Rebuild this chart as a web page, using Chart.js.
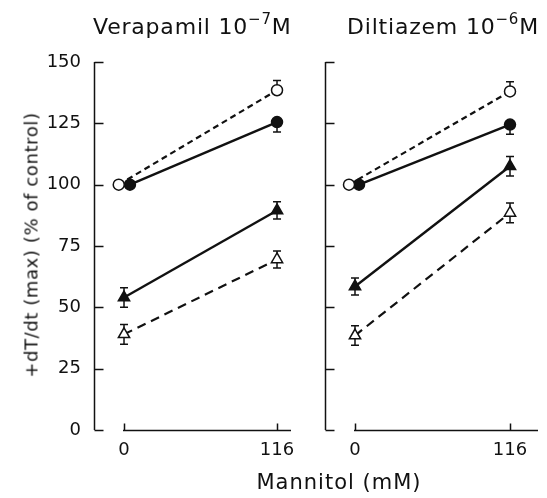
<!DOCTYPE html>
<html>
<head>
<meta charset="utf-8">
<script src="https://cdn.jsdelivr.net/npm/chart.js@4"></script>
<style>
  body { margin: 0; background: #fff; }
  #wrap { position: relative; width: 547px; height: 498px; font-family: "DejaVu Sans", sans-serif; color: #111; }
  canvas { position: absolute; top: 0; }
  .lbl { position: absolute; white-space: nowrap; }
  .title { font-size: 22px; top: 12px; letter-spacing: 0.8px; }
  .title sup { font-size: 15px; position: relative; top: -2px; }
</style>
</head>
<body>
<div id="wrap">
  <canvas id="left" width="300" height="498" style="left:0"></canvas>
  <canvas id="right" width="247" height="498" style="left:300px"></canvas>
  <div class="lbl title" style="left:93px">Verapamil 10<sup>−7</sup>M</div>
  <div class="lbl title" style="left:347px">Diltiazem 10<sup>−6</sup>M</div>
  <div class="lbl" style="font-size:18px;letter-spacing:0.6px;left:31px;top:245px;transform:translate(-50%,-50%) rotate(-90deg);">+dT/dt (max) (% of control)</div>
  <div class="lbl" style="font-size:21px;letter-spacing:1px;left:339px;top:482px;transform:translate(-50%,-50%);">Mannitol (mM)</div>
</div>
<script>
// mannitol concentrations (mM)
const mannitol = [0, 116];
const yTicks = [0, 25, 50, 75, 100, 125, 150];

// Verapamil 1e-7 M
const veraOpenCircle = [100, 138.5];
const veraOpenCircleErr = [0, 4];
const veraFilledCircle = [100, 125.5];
const veraFilledCircleErr = [0, 4];
const veraFilledTri = [54, 89.5];
const veraFilledTriErr = [4, 3.5];
const veraOpenTri = [39, 69.5];
const veraOpenTriErr = [4, 3.5];

// Diltiazem 1e-6 M
const diltOpenCircle = [100, 138];
const diltOpenCircleErr = [0, 4];
const diltFilledCircle = [100, 124.5];
const diltFilledCircleErr = [0, 4];
const diltFilledTri = [58.5, 107.5];
const diltFilledTriErr = [3.5, 4];
const diltOpenTri = [38.5, 88.5];
const diltOpenTriErr = [4, 4];

const ink = "#111";
const FONT = "DejaVu Sans";

// small sideways shift at 0 mM so the two circles don't sit on top of each other
function pts(values, shift) {
  return values.map((v, i) => ({ x: mannitol[i] + (i === 0 ? shift : 0), y: v }));
}

function series(values, err, opts) {
  return {
    data: pts(values, opts.shift || 0),
    err: err,
    errDir: opts.errDir || "both",
    borderColor: ink,
    borderWidth: opts.dashed ? 2.2 : 2.4,
    borderDash: opts.dashed ? opts.dash || [7, 5] : [],
    pointStyle: opts.shape,
    pointRadius: opts.shape === "triangle" ? 6.5 : 5.5,
    pointBorderWidth: 1.5,
    pointBackgroundColor: opts.open ? "#fff" : ink,
    pointBorderColor: ink,
    fill: false,
    tension: 0,
  };
}

// error bars, drawn under the markers
const errorBars = {
  id: "errorBars",
  beforeDatasetsDraw(chart) {
    const ctx = chart.ctx;
    const ys = chart.scales.y;
    ctx.save();
    ctx.strokeStyle = ink;
    ctx.lineWidth = 1.5;
    chart.data.datasets.forEach((ds, di) => {
      const meta = chart.getDatasetMeta(di);
      ds.data.forEach((p, i) => {
        const e = ds.err[i];
        if (!e) return;
        const x = meta.data[i].x;
        const top = ys.getPixelForValue(p.y + e);
        const bot = ys.getPixelForValue(p.y - e);
        const mid = ys.getPixelForValue(p.y);
        const y1 = ds.errDir === "down" ? mid : top;
        const y2 = ds.errDir === "up" ? mid : bot;
        ctx.beginPath();
        ctx.moveTo(x, y1);
        ctx.lineTo(x, y2);
        if (ds.errDir !== "down") { ctx.moveTo(x - 4, top); ctx.lineTo(x + 4, top); }
        if (ds.errDir !== "up") { ctx.moveTo(x - 4, bot); ctx.lineTo(x + 4, bot); }
        ctx.stroke();
      });
    });
    ctx.restore();
  },
};

// axis lines with inward ticks, x axis detached from the y axis
const axes = {
  id: "axes",
  afterDraw(chart) {
    const ctx = chart.ctx;
    const { x: xs, y: ys } = chart.scales;
    const area = chart.chartArea;
    ctx.save();
    ctx.strokeStyle = ink;
    ctx.lineWidth = 1.5;
    ctx.beginPath();
    const ax = Math.round(area.left) + 0.5;
    ctx.moveTo(ax, ys.getPixelForValue(150));
    ctx.lineTo(ax, ys.getPixelForValue(0));
    yTicks.forEach((t) => {
      const py = Math.round(ys.getPixelForValue(t)) + 0.5;
      ctx.moveTo(ax, py);
      ctx.lineTo(ax + 9, py);
    });
    const by = Math.round(ys.getPixelForValue(0)) + 0.5;
    ctx.moveTo(xs.getPixelForValue(mannitol[0]) - 1, by);
    ctx.lineTo(area.right, by);
    mannitol.forEach((m) => {
      const px = Math.round(xs.getPixelForValue(m)) + 0.5;
      ctx.moveTo(px, by);
      ctx.lineTo(px, by - 7);
    });
    ctx.stroke();
    ctx.restore();
  },
};

function makeChart(id, sets, xmin, xmax, yWidth, showYLabels) {
  return new Chart(document.getElementById(id), {
    type: "line",
    data: { datasets: sets },
    plugins: [errorBars, axes],
    options: {
      responsive: false,
      animation: false,
      layout: { padding: { top: 62, right: 9, left: 0, bottom: 0 } },
      plugins: { legend: { display: false }, tooltip: { enabled: false } },
      scales: {
        x: {
          type: "linear",
          min: xmin,
          max: xmax,
          grid: { display: false },
          border: { display: false },
          afterBuildTicks: (s) => { s.ticks = mannitol.map((v) => ({ value: v })); },
          afterFit: (s) => { s.height = 68; },
          ticks: { color: ink, font: { family: FONT, size: 18 }, padding: 2, maxRotation: 0, autoSkip: false },
        },
        y: {
          min: 0,
          max: 150,
          grid: { display: false },
          border: { display: false },
          afterBuildTicks: (s) => { s.ticks = yTicks.map((v) => ({ value: v })); },
          afterFit: (s) => { s.width = yWidth; },
          ticks: { display: showYLabels, color: ink, font: { family: FONT, size: 18 }, padding: 5 },
        },
      },
    },
  });
}

makeChart("left", [
  series(veraOpenCircle, veraOpenCircleErr, { shape: "circle", open: true, dashed: true, dash: [6, 4], shift: -4, errDir: "up" }),
  series(veraFilledCircle, veraFilledCircleErr, { shape: "circle", shift: 4.5, errDir: "down" }),
  series(veraFilledTri, veraFilledTriErr, { shape: "triangle" }),
  series(veraOpenTri, veraOpenTriErr, { shape: "triangle", open: true, dashed: true, dash: [9, 6] }),
], -22.75, 126.6, 94, true);

makeChart("right", [
  series(diltOpenCircle, diltOpenCircleErr, { shape: "circle", open: true, dashed: true, dash: [6, 4], shift: -4.5, errDir: "up" }),
  series(diltFilledCircle, diltFilledCircleErr, { shape: "circle", shift: 3, errDir: "down" }),
  series(diltFilledTri, diltFilledTriErr, { shape: "triangle" }),
  series(diltOpenTri, diltOpenTriErr, { shape: "triangle", open: true, dashed: true, dash: [9, 6] }),
], -22.45, 136.95, 25, false);
</script>
</body>
</html>
